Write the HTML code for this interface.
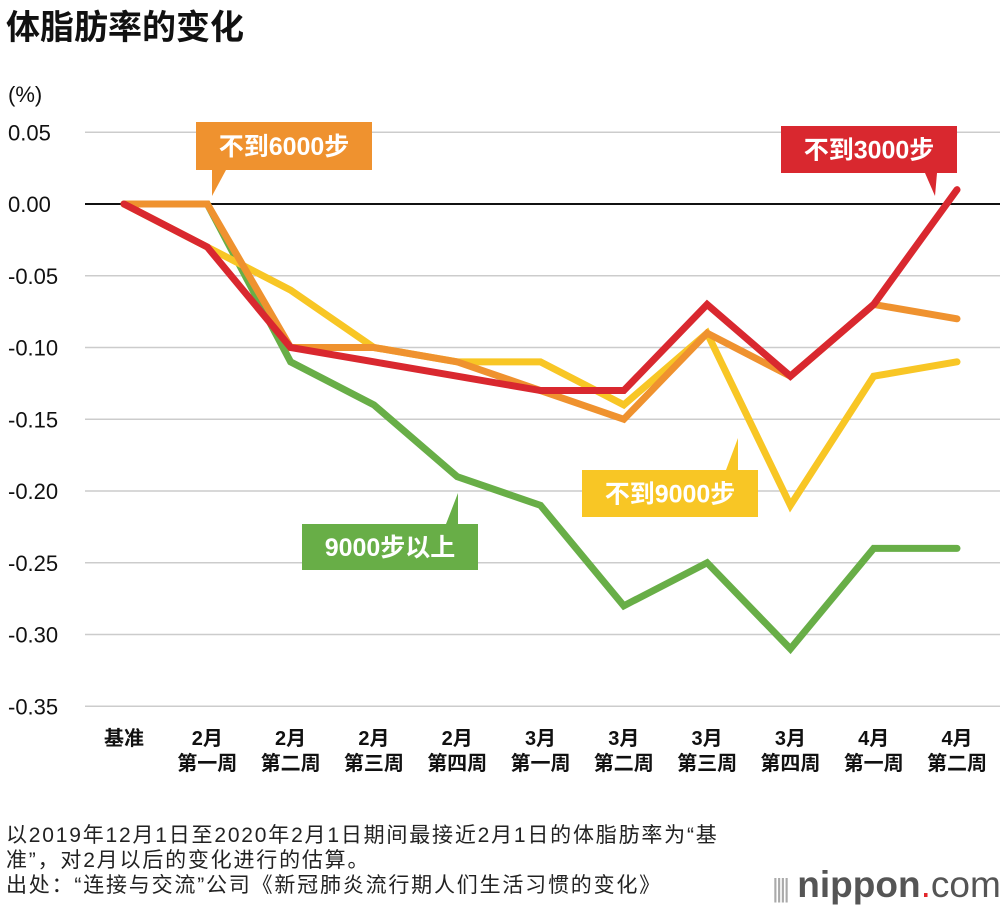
<!DOCTYPE html>
<html><head><meta charset="utf-8">
<style>
body{margin:0;background:#fff;font-family:"Liberation Sans","Noto Sans CJK SC",sans-serif;}
#wrap{position:relative;width:1000px;height:912px;overflow:hidden;}
.t{position:absolute;white-space:nowrap;}
</style></head><body>
<div id="wrap">
<div class="t" style="left:6px;top:0px;font-size:34px;font-weight:bold;color:#111">体脂肪率的变化</div>
<svg id="svg" width="1000" height="912" style="position:absolute;left:0;top:0"></svg>
<div class="t" style="left:6px;top:823px;font-size:21px;letter-spacing:1.8px;line-height:25px;color:#222">以2019年12月1日至2020年2月1日期间最接近2月1日的体脂肪率为“基<br>准”，对2月以后的变化进行的估算。<br>出处：“连接与交流”公司《新冠肺炎流行期人们生活习惯的变化》</div>
<div class="t" style="left:772px;top:864px;font-size:37px;color:#555"><span style="font-size:26px;color:#aaa;letter-spacing:-3px">||||</span> <b>nippon</b><span style="color:#e2262b">.</span>com</div>
</div>
<script>
const categories=["基准","2月|第一周","2月|第二周","2月|第三周","2月|第四周","3月|第一周","3月|第二周","3月|第三周","3月|第四周","4月|第一周","4月|第二周"];
const yTicks=[0.05,0,-0.05,-0.1,-0.15,-0.2,-0.25,-0.3,-0.35];
const yTickLabels=["0.05","0.00","-0.05","-0.10","-0.15","-0.20","-0.25","-0.30","-0.35"];
const green=[0,0,-0.11,-0.14,-0.19,-0.21,-0.28,-0.25,-0.31,-0.24,-0.24];
const yellow=[0,-0.03,-0.06,-0.10,-0.11,-0.11,-0.14,-0.09,-0.21,-0.12,-0.11];
const orange=[0,0,-0.10,-0.10,-0.11,-0.13,-0.15,-0.09,-0.12,-0.07,-0.08];
const red=[0,-0.03,-0.10,-0.11,-0.12,-0.13,-0.13,-0.07,-0.12,-0.07,0.01];
const NS="http://www.w3.org/2000/svg";
const svg=document.getElementById('svg');
const x=i=>124+i*83.3;
const y=v=>204-v/0.05*71.75;
function el(t,a,p){const e=document.createElementNS(NS,t);for(const k in a)e.setAttribute(k,a[k]);(p||svg).appendChild(e);return e;}
yTicks.forEach((v,i)=>{
  const l=el('line',{x1:85,x2:1000,y1:y(v),y2:y(v),stroke:v===0?'#111':'#ccc','stroke-width':v===0?2:1.5});
  
  
  const t=el('text',{x:8,y:y(v)+8,'font-size':22,fill:'#111'});
  t.textContent=yTickLabels[i];
  
  
});
const u=el('text',{x:8,y:102,'font-size':22,fill:'#111'});u.textContent='(%)';


categories.forEach((c,i)=>{
  const parts=c.split('|');
  parts.forEach((p,j)=>{
    const t=el('text',{x:x(i),y:745+j*25,'font-size':20,'font-weight':'bold','text-anchor':'middle',fill:'#111','font-family':'"Liberation Sans","Noto Sans CJK SC",sans-serif'});
    t.textContent=p;
    
    
  });
});
const series=[[green,'#68ae47','series-9000-plus'],[yellow,'#f8c625','series-under-9000'],[orange,'#ef922f','series-under-6000'],[red,'#d9282f','series-under-3000']];
series.forEach(([d,c,n])=>{
  const p=el('polyline',{points:d.map((v,i)=>x(i)+','+y(v)).join(' '),fill:'none',stroke:c,'stroke-width':7,'stroke-linejoin':'miter','stroke-linecap':'round'});
  
  
});
function callout(bx,by,w,h,px,py,tx,bw,c,txt,n){
  const g=el('g',{});
  
  
  el('rect',{x:bx,y:by,width:w,height:h,fill:c},g);
  const up=py<by;
  const yb=up?by:by+h;
  el('polygon',{points:`${tx},${yb} ${tx+bw},${yb} ${px},${py}`,fill:c},g);
  const t=el('text',{x:bx+w/2,y:by+h/2+9,'font-size':25,'font-weight':'bold','text-anchor':'middle',fill:'#fff','font-family':'"Liberation Sans","Noto Sans CJK SC",sans-serif'},g);
  t.textContent=txt;
}
callout(196,122,176,48,212,196,212,14,'#ef922f','不到6000步','label-under-6000');
callout(781,126,176,47,935,196,925,12,'#d9282f','不到3000步','label-under-3000');
callout(582,470,176,47,738,438,726,12,'#f8c625','不到9000步','label-under-9000');
callout(302,524,176,46,458,493,446,12,'#68ae47','9000步以上','label-9000-plus');
</script>
</body></html>
